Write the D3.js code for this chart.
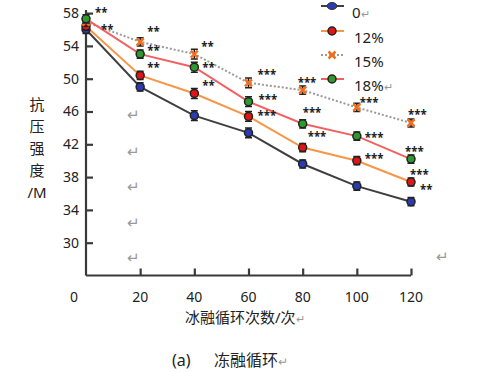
<!DOCTYPE html>
<html>
<head>
<meta charset="utf-8">
<script src="https://cdn.jsdelivr.net/npm/d3@7"></script>
<style>
  body { margin: 0; background: #fff; }
  svg text { font-family: "Noto Sans", "Noto Sans CJK SC", sans-serif; }
</style>
</head>
<body>
<div id="chart"></div>
<script>
// freeze-thaw cycles
const cycles = [0, 20, 40, 60, 80, 100, 120];
const seriesNames = ["0", "12%", "15%", "18%"];
const s0 = [56.0, 49.0, 45.5, 43.4, 39.6, 36.9, 35.0];
const s12 = [56.4, 50.4, 48.2, 45.4, 41.6, 40.0, 37.4];
const s15 = [56.9, 54.5, 53.0, 49.5, 48.6, 46.5, 44.6];
const s18 = [57.3, 53.0, 51.4, 47.2, 44.5, 43.0, 40.2];
const errs = [0.5, 0.5, 0.6, 0.6, 0.5, 0.5, 0.5];
const yTicks = [30, 34, 38, 42, 46, 50, 54, 58];
const xTicks = [20, 40, 60, 80, 100, 120];

// significance marks: [series index, cycle index, text]
const marks = [
  [3, 0, "**"], [2, 0, "**"],
  [2, 1, "**"], [3, 1, "**"], [1, 1, "**"],
  [2, 2, "**"], [3, 2, "**"], [1, 2, "**"],
  [2, 3, "***"], [3, 3, "***"], [1, 3, "***"],
  [2, 4, "***"], [3, 4, "***"], [1, 4, "***"],
  [2, 5, "***"], [3, 5, "***"], [1, 5, "***"],
  [2, 6, "***"], [3, 6, "***"], [1, 6, "***"], [1, 6, "**"]
];
const markOffsets = [
  [9, -8], [15, 5],
  [7, -12], [7, -6], [7, -10],
  [7, -10], [8, -2], [8, -10],
  [9, -10], [10, -4], [9, -3],
  [-5, -10], [0, -13], [5, -13],
  [3, -7], [8, -1], [8, -4],
  [-3, -10], [-6, -10], [-1, -10], [9, 5]
];

const data = [s0, s12, s15, s18];
const lineColors = ["#3f3f3f", "#f79646", "#9a9a9a", "#f26161"];
const markColors = ["#2b3bb0", "#e01515", "#f07020", "#2e9a2e"];

const W = 497, H = 373;
const svg = d3.select("#chart").append("svg").attr("width", W).attr("height", H);

const x = d3.scaleLinear().domain([0, 120]).range([86, 411]);
const y = d3.scaleLinear().domain([26, 58]).range([275.5, 13.1]);
const axisColor = "#3a3a3a";

// axes
const yAxis = svg.append("g").attr("transform", "translate(86,0)")
  .call(d3.axisRight(y).tickValues(yTicks).tickSize(7).tickFormat(""));
yAxis.select(".domain").attr("d", "M0,275.5V10");
const xAxis = svg.append("g").attr("transform", "translate(0,275.5)")
  .call(d3.axisTop(x).tickValues(xTicks).tickSize(7).tickFormat(""));
xAxis.select(".domain").attr("d", "M86,0H411");
svg.selectAll(".domain, .tick line").attr("stroke", axisColor).attr("stroke-width", 2.2);

svg.selectAll(".ylab").data(yTicks).join("text")
  .attr("x", 79).attr("y", d => y(d)).attr("dy", "0.35em")
  .attr("text-anchor", "end").attr("font-size", 14).attr("fill", "#222")
  .text(d => d);
svg.selectAll(".xlab").data([0].concat(xTicks)).join("text")
  .attr("x", d => d === 0 ? 74 : x(d)).attr("y", 297).attr("dy", "0.35em")
  .attr("text-anchor", "middle").attr("font-size", 14).attr("fill", "#222")
  .text(d => d);

// y title, stacked
["抗", "压", "强", "度", "/M"].forEach((c, i) => {
  svg.append("text").attr("x", 37).attr("y", 105 + i * 22).attr("dy", "0.35em")
    .attr("text-anchor", "middle").attr("font-size", 15).attr("fill", "#222").text(c);
});

svg.append("text").attr("x", 185).attr("y", 318).attr("dy", "0.35em")
  .attr("font-size", 15).attr("fill", "#222")
  .text("冰融循环次数/次").append("tspan").attr("fill", "#999").attr("font-size", 11).text("↵");
svg.append("text").attr("x", 172).attr("y", 360).attr("dy", "0.35em")
  .attr("font-size", 16).attr("fill", "#222").text("(a)");
svg.append("text").attr("x", 214).attr("y", 360).attr("dy", "0.35em")
  .attr("font-size", 16).attr("fill", "#222")
  .text("冻融循环").append("tspan").attr("fill", "#999").attr("font-size", 12).text("↵");

// stray return marks
[115, 152, 187, 223, 258].forEach(v => {
  svg.append("text").attr("x", 133).attr("y", v).attr("dy", "0.35em")
    .attr("text-anchor", "middle").attr("font-size", 15).attr("fill", "#999").text("↵");
});
svg.append("text").attr("x", 442).attr("y", 257).attr("dy", "0.35em")
  .attr("text-anchor", "middle").attr("font-size", 15).attr("fill", "#999").text("↵");

// lines
const line = d3.line().x((d, i) => x(cycles[i])).y(d => y(d));
data.forEach((s, k) => {
  svg.append("path").attr("d", line(s)).attr("fill", "none")
    .attr("stroke", lineColors[k]).attr("stroke-width", 2)
    .attr("stroke-dasharray", k === 2 ? "2,2" : null);
});

function marker(g, k, cx, cy) {
  if (k === 2) {
    g.append("path").attr("d", `M${cx - 3.5},${cy - 3.5}L${cx + 3.5},${cy + 3.5}M${cx - 3.5},${cy + 3.5}L${cx + 3.5},${cy - 3.5}`)
      .attr("stroke", markColors[k]).attr("stroke-width", 2.5);
  } else {
    g.append("circle").attr("cx", cx).attr("cy", cy).attr("r", 4)
      .attr("fill", markColors[k]).attr("stroke", "#222").attr("stroke-width", 1.5);
  }
}

// error bars and markers
data.forEach((s, k) => {
  const g = svg.append("g");
  s.forEach((v, i) => {
    const cx = x(cycles[i]);
    g.append("path")
      .attr("d", `M${cx},${y(v + errs[i])}V${y(v - errs[i])}M${cx - 3.5},${y(v + errs[i])}H${cx + 3.5}M${cx - 3.5},${y(v - errs[i])}H${cx + 3.5}`)
      .attr("stroke", "#222").attr("stroke-width", 1.5).attr("fill", "none");
    marker(g, k, cx, y(v));
  });
});

// significance asterisks
marks.forEach((m, j) => {
  const [k, i, t] = m;
  svg.append("text")
    .attr("x", x(cycles[i]) + markOffsets[j][0])
    .attr("y", y(data[k][i]) + markOffsets[j][1] + 6.5)
    .attr("font-size", 11.5).attr("font-weight", "bold").attr("fill", "#222")
    .text(t);
});

// legend
const legY = [6, 31, 55, 79];
seriesNames.forEach((name, k) => {
  const ly = legY[k];
  svg.append("line").attr("x1", 321).attr("x2", 344).attr("y1", ly).attr("y2", ly)
    .attr("stroke", lineColors[k]).attr("stroke-width", 2)
    .attr("stroke-dasharray", k === 2 ? "2,2" : null);
  if (k === 0) {
    svg.append("ellipse").attr("cx", 332).attr("cy", ly).attr("rx", 5).attr("ry", 3.5)
      .attr("fill", markColors[0]).attr("stroke", "#333").attr("stroke-width", 1);
  } else {
    marker(svg, k, 332, ly);
  }
  const t = svg.append("text").attr("x", name === "0" ? 352 : 354).attr("y", ly + 7).attr("dy", "0.35em")
    .attr("font-size", 15).attr("fill", "#222").text(name);
  if (k === 0 || k === 3) t.append("tspan").attr("fill", "#999").attr("font-size", 11).text("↵");
});
</script>
</body>
</html>
